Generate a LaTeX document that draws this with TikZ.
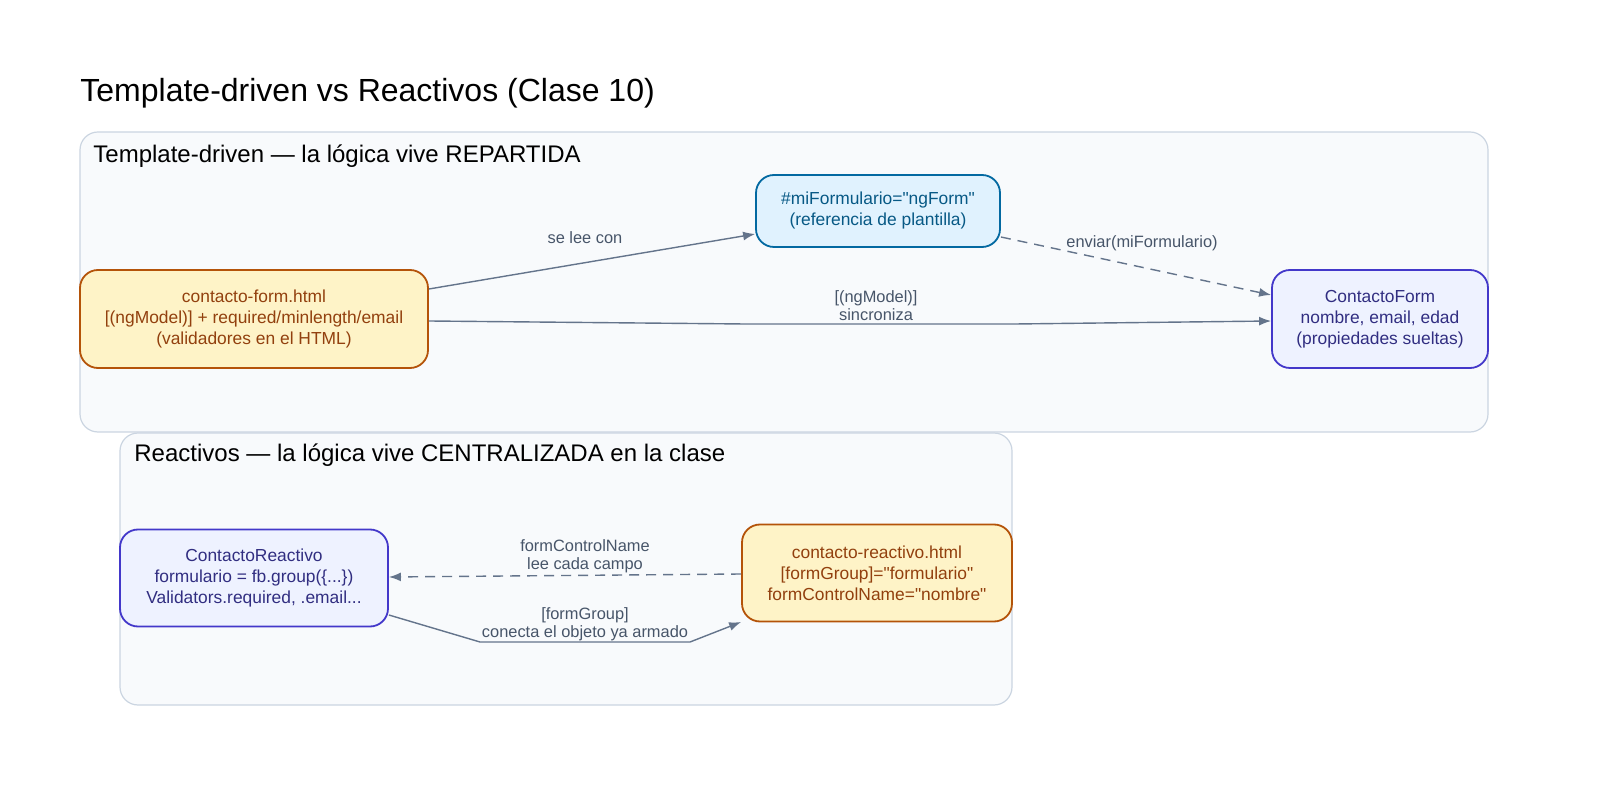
\documentclass[tikz,border=0pt]{standalone}
\usepackage{fontspec}
\setmainfont{Liberation Sans}[Ligatures=TeXOff]
\usetikzlibrary{arrows.meta}
\definecolor{edge}{HTML}{64748B}
\definecolor{lab}{HTML}{475569}
\definecolor{clfill}{HTML}{F8FAFC}
\definecolor{clline}{HTML}{CBD5E1}
\begin{document}
\begin{tikzpicture}[x=0.5pt,y=-0.5pt,
  cluster/.style={draw=clline,fill=clfill,line width=0.6pt,rounded corners=9pt},
  nd/.style={draw,line width=0.9pt,rounded corners=9pt,align=center,font=\fontsize{8.7}{10.5}\selectfont,inner sep=0pt},
  yel/.style={nd,fill={rgb,255:red,254;green,243;blue,199},draw={rgb,255:red,180;green,83;blue,9},text={rgb,255:red,146;green,64;blue,14}},
  blu/.style={nd,fill={rgb,255:red,224;green,242;blue,254},draw={rgb,255:red,3;green,105;blue,161},text={rgb,255:red,7;green,89;blue,133}},
  ind/.style={nd,fill={rgb,255:red,238;green,242;blue,255},draw={rgb,255:red,67;green,56;blue,202},text={rgb,255:red,49;green,46;blue,129}},
  ar/.style={draw=edge,line width=0.7pt,-{Latex[length=6pt,width=4.5pt]}},
  lb/.style={text=lab,font=\fontsize{8.2}{9}\selectfont,align=center,inner sep=1pt}]
\useasboundingbox (0,0) rectangle (1600,801);
\fill[white] (0,0) rectangle (1600,801);
\node[anchor=west,font=\fontsize{16}{18}\selectfont,inner sep=0pt] (title) at (80,93) {Template-driven vs Reactivos (Clase 10)};
\draw[cluster] (80,132) rectangle (1488,432);
\node[anchor=west,font=\fontsize{12}{14}\selectfont,inner sep=0pt] (t1) at (93,156) {Template-driven — la lógica vive REPARTIDA};
\draw[cluster] (120,433) rectangle (1012,705);
\node[anchor=west,font=\fontsize{12}{14}\selectfont,inner sep=0pt] (t2) at (134,455) {Reactivos — la lógica vive CENTRALIZADA en la clase};
\node[yel,minimum width=174pt,minimum height=49pt] (A) at (254,319) {contacto-form.html\\{[}(ngModel){]} + required/minlength/email\\(validadores en el HTML)};
\node[blu,minimum width=122pt,minimum height=36pt] (B) at (878,211) {\#miFormulario="ngForm"\\(referencia de plantilla)};
\node[ind,minimum width=108pt,minimum height=49pt] (C) at (1380,319) {ContactoForm\\nombre, email, edad\\(propiedades sueltas)};
\node[ind,minimum width=134pt,minimum height=48.5pt] (D) at (254,578) {ContactoReactivo\\formulario = fb.group(\{...\})\\Validators.required, .email...};
\node[yel,minimum width=135pt,minimum height=48.5pt] (E) at (877,573) {contacto-reactivo.html\\{[}formGroup{]}="formulario"\\formControlName="nombre"};
\coordinate (a1) at (745,324); \coordinate (a2) at (1015,324);
\coordinate (d1) at (480,642); \coordinate (d2) at (690,642);
\draw[ar] (A.east |- 0,289) -- (B.west |- 0,234);
\node[lb] (l1) at (585,238) {se lee con};
\draw[ar] (A.east |- 0,321) -- (a1) -- (a2) -- (C.west |- 0,321);
\node[lb] (l2) at (876,306) {{[}(ngModel){]}\\sincroniza};
\draw[ar,dashed,dash pattern=on 5pt off 3.5pt] (B.east |- 0,237) -- (C.west |- 0,295);
\node[lb] (l3) at (1142,243) {enviar(miFormulario)};
\draw[ar,dashed,dash pattern=on 5pt off 3.5pt] (E.west |- 0,574) -- (D.east |- 0,577);
\node[lb] (l4) at (585,556) {formControlName\\lee cada campo};
\draw[ar] (D.east |- 0,615) -- (d1) -- (d2) -- (E.west |- 0,622);
\node[lb] (l5) at (585,624) {{[}formGroup{]}\\conecta el objeto ya armado};
\end{tikzpicture}
\end{document}
